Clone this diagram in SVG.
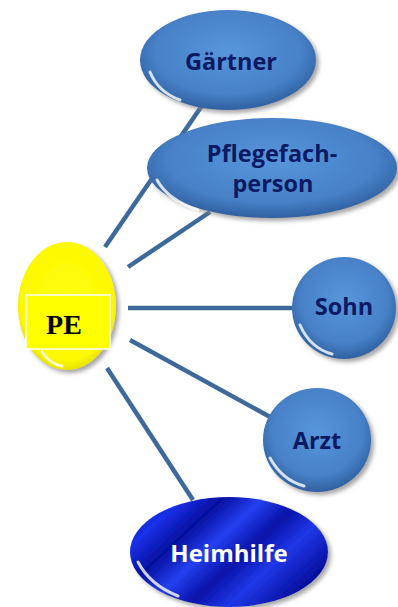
<svg xmlns="http://www.w3.org/2000/svg" width="398" height="607" viewBox="0 0 398 607">
<style>
.conn{stroke:#3d6a9b;stroke-width:4.5;fill:none}
.lbl{font-family:"Open Sans","Noto Sans",sans-serif;font-weight:bold;font-size:23.5px;fill:#0b1a63;text-anchor:middle}
.wlbl{font-family:"Open Sans","Noto Sans",sans-serif;font-weight:bold;font-size:24px;fill:#ffffff;text-anchor:middle}
.ball{fill:url(#blueG);filter:url(#sh)}
.gloss{fill:none;stroke:#ffffff;stroke-width:3;stroke-linecap:round;opacity:0.8}
</style>
<defs>
<radialGradient id="blueG" cx="50%" cy="42%" r="60%">
<stop offset="0" stop-color="#5796dc"/>
<stop offset="0.7" stop-color="#4781c8"/>
<stop offset="1" stop-color="#2c5c9c"/>
</radialGradient>
<radialGradient id="yelG" cx="50%" cy="45%" r="60%">
<stop offset="0" stop-color="#ffff10"/>
<stop offset="0.8" stop-color="#fcf800"/>
<stop offset="1" stop-color="#d8d000"/>
</radialGradient>
<linearGradient id="heimG" x1="0" y1="0" x2="1" y2="0.6">
<stop offset="0" stop-color="#0818a8"/>
<stop offset="0.2" stop-color="#1a30e8"/>
<stop offset="0.35" stop-color="#0510a0"/>
<stop offset="0.5" stop-color="#2440f0"/>
<stop offset="0.65" stop-color="#0712a8"/>
<stop offset="0.8" stop-color="#2038e8"/>
<stop offset="1" stop-color="#0510a0"/>
</linearGradient>
<filter id="sh" x="-20%" y="-20%" width="150%" height="150%">
<feDropShadow dx="3" dy="3" stdDeviation="2" flood-color="#808080" flood-opacity="0.7"/>
</filter>
</defs>
<g id="connectors">
<line class="conn" x1="105" y1="247" x2="201" y2="107"/>
<line class="conn" x1="128" y1="267" x2="210" y2="212"/>
<line class="conn" x1="128" y1="308" x2="295" y2="308"/>
<line class="conn" x1="130" y1="340" x2="272" y2="418"/>
<line class="conn" x1="107" y1="368" x2="193" y2="500"/>
</g>
<g id="gaertner">
<ellipse class="ball" cx="228" cy="60" rx="88" ry="50"/>
<path class="gloss" d="M150 72 Q158 92 180 100" opacity="0.6"/>
<text class="lbl" x="231" y="70">Gärtner</text>
</g>
<g id="pflegefachperson">
<ellipse class="ball" cx="272" cy="168" rx="125" ry="50"/>
<path class="gloss" d="M157 180 Q168 200 198 210" opacity="0.6"/>
<text class="lbl" x="272" y="162">Pflegefach-</text>
<text class="lbl" x="273" y="192">person</text>
</g>
<g id="pe">
<ellipse cx="67" cy="306" rx="49" ry="64" fill="url(#yelG)" filter="url(#sh)"/>
<rect x="26" y="295" width="84" height="54" fill="#ffff00" stroke="#ffffff" stroke-width="1.5"/>
<path class="gloss" d="M42 352 Q50 364 62 366" opacity="0.7"/>
<text x="64" y="334" font-family="Liberation Serif,serif" font-weight="bold" font-size="28" fill="#000000" text-anchor="middle">PE</text>
</g>
<g id="sohn">
<ellipse class="ball" cx="344" cy="308" rx="52" ry="51"/>
<path class="gloss" d="M300 325 Q310 348 332 354" opacity="0.7"/>
<text class="lbl" x="344" y="315">Sohn</text>
</g>
<g id="arzt">
<ellipse class="ball" cx="317" cy="440" rx="54" ry="52"/>
<path class="gloss" d="M270 458 Q282 480 304 486" opacity="0.7"/>
<text class="lbl" x="317" y="449">Arzt</text>
</g>
<g id="heimhilfe">
<ellipse cx="229" cy="552" rx="99" ry="55" fill="url(#heimG)" filter="url(#sh)"/>
<path class="gloss" d="M138 562 Q150 585 178 596" opacity="0.6"/>
<text class="wlbl" x="229" y="562">Heimhilfe</text>
</g>
</svg>
